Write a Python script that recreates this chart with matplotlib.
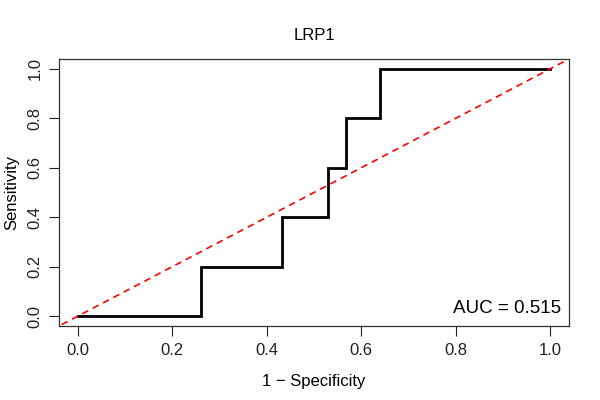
import numpy as np
import matplotlib.pyplot as plt

plt.rcParams['font.family'] = ['Liberation Sans', 'DejaVu Sans']

# ROC curve points (1 - specificity, sensitivity)
fpr = [0.0, 0.261, 0.261, 0.432, 0.432, 0.529, 0.529, 0.567, 0.567, 0.640, 0.640, 1.0]
tpr = [0.0, 0.0, 0.2, 0.2, 0.4, 0.4, 0.6, 0.6, 0.8, 0.8, 1.0, 1.0]
ticks = [0.0, 0.2, 0.4, 0.6, 0.8, 1.0]
auc = 0.515

fig = plt.figure(figsize=(6, 4), dpi=100)
ax = fig.add_axes([59/600, 1 - 326/400, (569 - 59)/600, (326 - 59)/400])

ax.plot(fpr, tpr, color='black', lw=2.0, solid_joinstyle='miter')
ax.plot([-0.1, 1.1], [-0.1, 1.1], color='red', lw=1.2, ls=(0, (4, 3)))

ax.set_xlim(-0.04, 1.04)
ax.set_ylim(-0.04, 1.04)
ax.set_xticks(ticks)
ax.set_yticks(ticks)
ax.set_xticklabels(['%.1f' % t for t in ticks])
ax.set_yticklabels(['%.1f' % t for t in ticks], rotation=90, va='center')
ax.tick_params(direction='out', length=7, width=0.8, labelsize=12, pad=5, colors='#222222')
for s in ax.spines.values():
    s.set_linewidth(0.9)
    s.set_color('#333333')

ax.text(0.984, 0.05, 'AUC = %.3f' % auc, transform=ax.transAxes,
        ha='right', va='baseline', fontsize=13.5)

ax.set_title('LRP1', fontsize=12, pad=14)
ax.set_xlabel('1 \u2212 Specificity', fontsize=12, labelpad=12)
ax.set_ylabel('Sensitivity', fontsize=12, labelpad=6)

fig.savefig('out.png', dpi=100)
